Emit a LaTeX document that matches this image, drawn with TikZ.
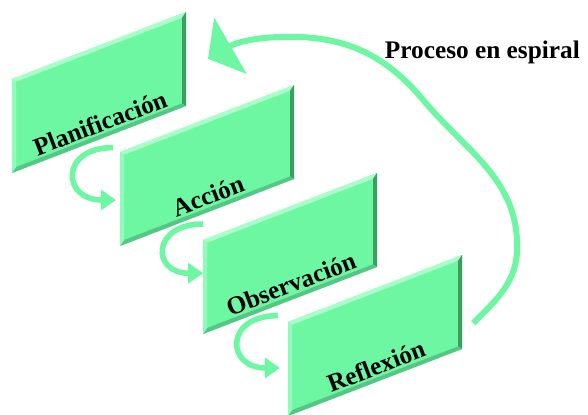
\documentclass[tikz,border=0pt]{standalone}
\usepackage{fontspec}
\setmainfont{Liberation Serif}
\usetikzlibrary{arrows.meta}

\definecolor{menta}{HTML}{6EF7A3}
\definecolor{mentaclara}{HTML}{A8FFC8}
\definecolor{mentaosc}{HTML}{3E9E62}
\definecolor{mentamed}{HTML}{55C784}

\tikzset{
  etiqueta/.style={font=\bfseries\fontsize{18}{20}\selectfont, inner sep=0pt},
  flechita/.style={draw=menta, line width=0.14cm, -{Triangle[width=0.5cm,length=0.38cm]}},
  flechagrande/.style={draw=menta, line width=0.15cm, -{Triangle[width=1.6cm,length=0.65cm]}}
}

\begin{document}
\begin{tikzpicture}
  \useasboundingbox (0,0) rectangle (14.7,10.35);
  % las cuatro etapas
  \foreach \x/\y/\txt [count=\i] in {0.3/8.375/Planificación,3.0/6.55/Acción,
      5.075/4.35/Observación,7.2/2.3/Reflexión}{
    \begin{scope}[shift={(\x,\y)}]
      \fill[menta] (0,0)--(4.35,1.675)--(4.35,-0.675)--(0,-2.35)--cycle;
      \fill[mentaclara] (0,0)--(4.35,1.675)--(4.25,1.53)--(0.1,-0.07)--cycle;
      \fill[mentaosc] (4.35,1.675)--(4.35,-0.675)--(4.25,-0.61)--(4.25,1.53)--cycle;
      \fill[mentamed] (4.35,-0.675)--(0,-2.35)--(0.1,-2.2)--(4.25,-0.61)--cycle;
      \fill[mentaclara!60!menta] (0,-2.35)--(0,0)--(0.1,-0.07)--(0.1,-2.2)--cycle;
      \node[etiqueta,rotate=21] (t\i) at (2.2,-1.1) {\txt};
    \end{scope}
  }
  % flechas entre etapas
  \coordinate (a1s) at (2.83,6.66);
  \coordinate (a1e) at (2.9,5.35);
  \coordinate (a2s) at (5.08,4.75);
  \coordinate (a2e) at (5.08,3.52);
  \coordinate (a3s) at (6.95,2.46);
  \coordinate (a3e) at (7.0,1.15);
  \draw[flechita] (a1s) .. controls +(-1.35,0) and +(-1.35,0) .. (a1e);
  \draw[flechita] (a2s) .. controls +(-1.3,0) and +(-1.3,0) .. (a2e);
  \draw[flechita] (a3s) .. controls +(-1.35,0) and +(-1.35,0) .. (a3e);
  % espiral
  \coordinate (sps) at (11.83,2.27);
  \coordinate (spe) at (5.2,8.88);
  \draw[flechagrande] (sps) to[out=45,in=-90] (12.93,4.18) to[out=90,in=-50] (10.58,7.85)
    to[out=130,in=0] (7.25,9.43) to[out=180,in=30] (spe);
  \node[etiqueta] (titulo) at (12.06,9.04) {Proceso en espiral};
\end{tikzpicture}
\end{document}
